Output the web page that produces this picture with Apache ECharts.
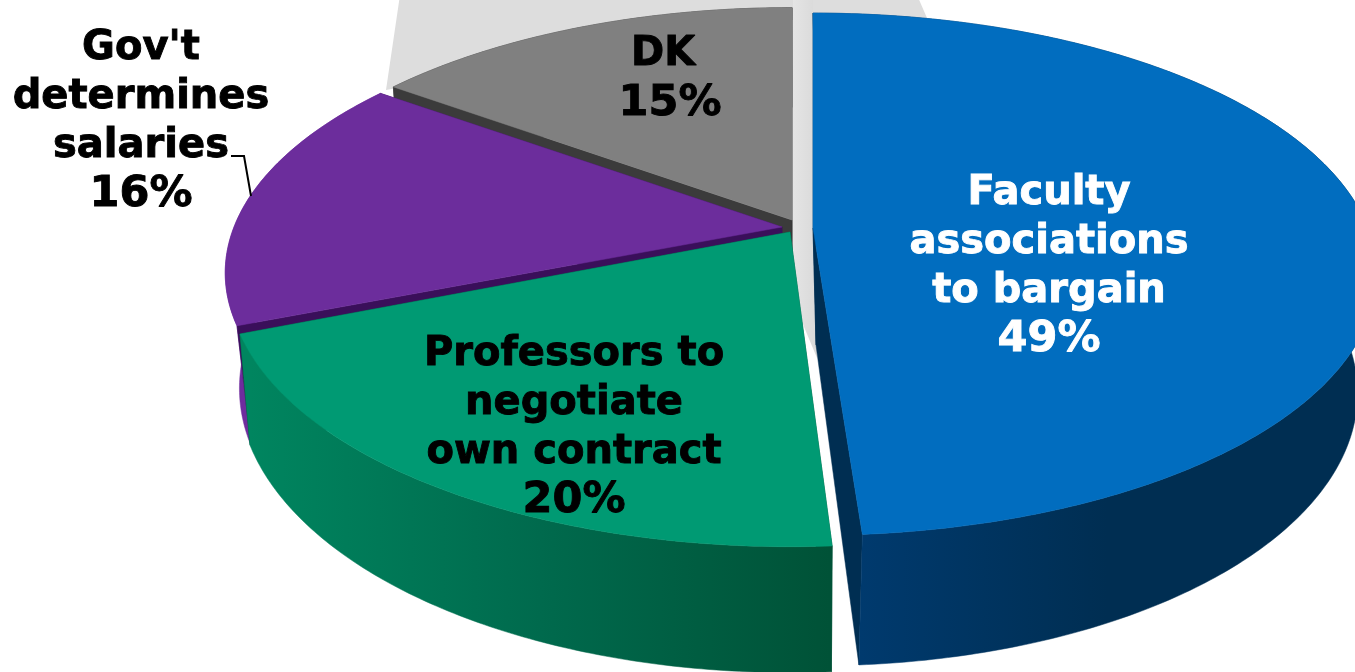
<!DOCTYPE html>
<html>
<head>
<meta charset="utf-8">
<style>html,body{margin:0;padding:0;background:#fff}#c{width:1355px;height:672px}</style>
<script src="https://cdn.jsdelivr.net/npm/echarts@6/dist/echarts.min.js"></script>
</head>
<body>
<div id="c"></div>
<script>
// Data
const names = ['Faculty\nassociations\nto bargain', 'Professors to\nnegotiate\nown contract', "Gov't\ndetermines\nsalaries", 'DK '];
const values = [49, 20, 16, 15];

// Colours
const topColors = ['#016DBF', '#009A73', '#6C2D9C', '#808080'];
const faceColors = ['#002E52', '#005237', '#3A0F5A', '#3B3B3B'];
const wallStops = [
  ['#003A6E', '#002E52', '#002E52'],
  ['#00855F', '#006A4D', '#005237'],
  ['#6F2C9E', '#6F2C9E', '#6F2C9E'],
  ['#3B3B3B', '#3B3B3B', '#3B3B3B']
];
const wallRange = [[860, 1355], [250, 830], [225, 400], [380, 800]];
const labelColors = ['#FFFFFF', '#000000', '#000000', '#000000'];

// Layout: perspective parameters of each slice's upper and lower plane
const K = 0.177;
const upper = [[813, 228, 555, 253], [790, 232, 553, 259], [782, 227, 548, 251], [792, 220, 544, 250]];
const lower = [[816, 345, 533, 264], [790, 336, 543, 277], [782, 339, 534, 270], [792, 330, 535, 262]];
const endTrimUpper = [-0.6, 0, 0, 0];
const endTrimLower = [-0.2, 0, 0, 0];
const faceOverWall = [false, false, true, false];
const labelCenters = [[1049, 267], [574, 428], [141, 122], [670, 79]];
const drawRank = [3, 2, 1, 0];
const LH = 48.7;

function project(p, deg) {
  const t = deg * Math.PI / 180, w = 1 + K * Math.cos(t);
  return [p[0] + p[2] * Math.sin(t) / w, p[1] - p[3] * Math.cos(t) / w];
}
function arc(p, a, b) {
  const n = Math.max(4, Math.ceil(Math.abs(b - a) * 1.5)), out = [];
  for (let i = 0; i <= n; i++) out.push(project(p, a + (b - a) * i / n));
  return out;
}
const total = values.reduce((s, v) => s + v, 0);

function renderSlice(params, api) {
  const i = params.dataIndex;
  let before = 0;
  for (let j = 0; j < i; j++) before += values[j];
  const a = before / total * 360, b = (before + api.value(0)) / total * 360;
  const U = upper[i], L = lower[i], rank = drawRank[i] * 10;
  const topArc = arc(U, a, b + endTrimUpper[i]), lowArc = arc(L, a, b + endTrimLower[i]);
  const apexU = [U[0], U[1]], apexL = [L[0], L[1]];
  const s = wallStops[i], r = wallRange[i];
  const wallFill = {
    type: 'linear', x: r[0], y: 0, x2: r[1], y2: 0, global: true,
    colorStops: [{offset: 0, color: s[0]}, {offset: 0.5, color: s[1]}, {offset: 1, color: s[2]}]
  };
  const poly = (pts, fill, z) => ({type: 'polygon', z2: z, shape: {points: pts},
    style: {fill: fill, stroke: fill, lineWidth: 0.5}});
  const faceA = [apexU, topArc[0], lowArc[0], apexL];
  const faceB = [apexU, topArc[topArc.length - 1], lowArc[lowArc.length - 1], apexL];
  const wall = topArc.concat(lowArc.slice().reverse());
  const faceZ = rank + (faceOverWall[i] ? 2 : 1), wallZ = rank + (faceOverWall[i] ? 1 : 2);
  const nLines = names[i].split('\n').length;
  const blockTop = labelCenters[i][1] - (nLines + 1) * LH / 2;
  const txt = (t, y, size) => ({type: 'text', z2: 100, style: {
    x: labelCenters[i][0], y: y, text: t,
    fill: labelColors[i], stroke: labelColors[i], lineWidth: 0.9,
    align: 'center', verticalAlign: 'middle',
    font: 'bold ' + size + 'px "DejaVu Sans"', lineHeight: LH
  }});
  return {
    type: 'group',
    children: [
      poly(wall, wallFill, wallZ),
      poly(faceA, faceColors[i], faceZ),
      poly(faceB, faceColors[i], faceZ),
      poly([apexU].concat(topArc), topColors[i], rank + 3),
      txt(names[i], blockTop + nLines * LH / 2, 40),
      txt(api.value(0) + '%', blockTop + nLines * LH + LH / 2, 43)
    ]
  };
}

const chart = echarts.init(document.getElementById('c'), null, {renderer: 'canvas'});
chart.setOption({
  animation: false,
  backgroundColor: '#FFFFFF',
  graphic: [
    {type: 'polygon', z: 0, silent: true, shape: {points: [[386, 90], [400, -5], [917, -5], [927, 18], [813, 20], [793, 20]]}, style: {fill: '#DDDDDD'}},
    {type: 'polygon', z: 0, silent: true, shape: {points: [[793, 0], [813, 0], [817, 358], [802, 322], [790, 232]]},
      style: {fill: {type: 'linear', x: 0, y: 0, x2: 1, y2: 0, colorStops: [{offset: 0, color: '#E6E6E6'}, {offset: 1, color: '#D9D9D9'}]}}},
    {type: 'polyline', z: 10, silent: true, shape: {points: [[231, 156], [244, 156], [251, 196]]}, style: {stroke: '#000', lineWidth: 2, fill: 'none'}}
  ],
  series: [{
    type: 'custom',
    coordinateSystem: 'none',
    silent: true,
    clip: false,
    renderItem: renderSlice,
    data: values.map(v => [v])
  }]
});
</script>
</body>
</html>
